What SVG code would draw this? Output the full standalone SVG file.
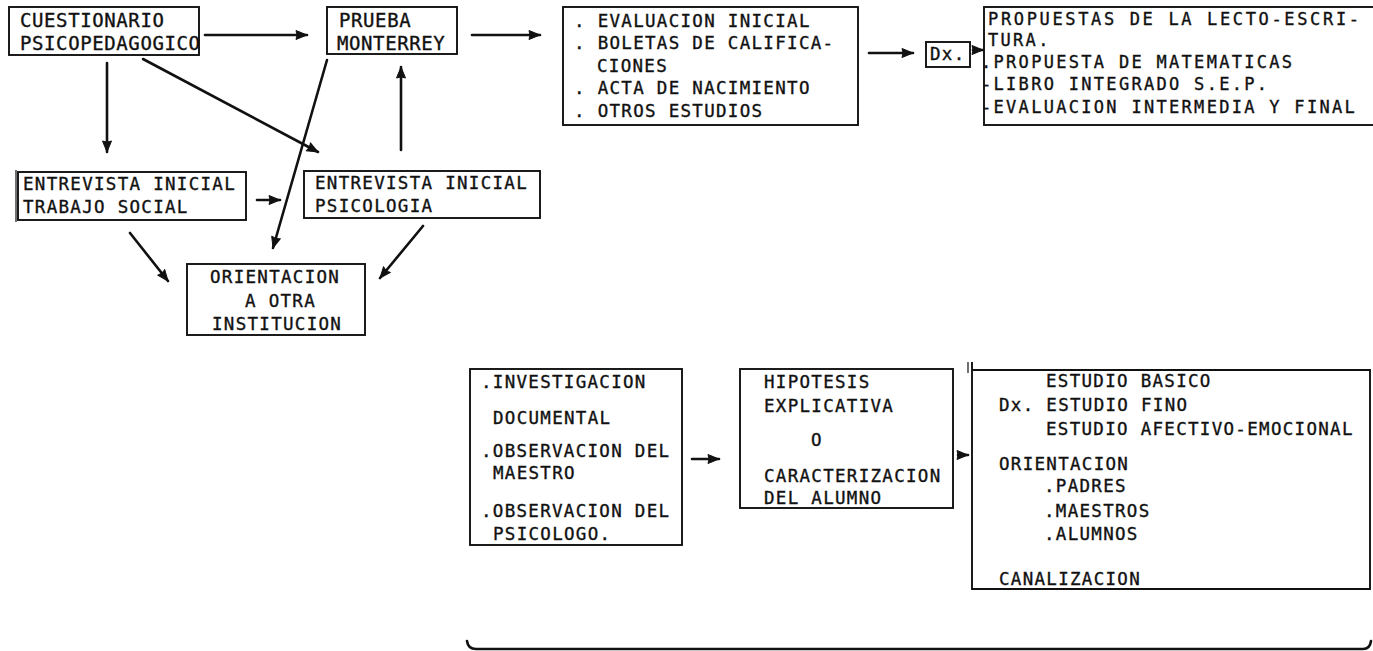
<svg xmlns="http://www.w3.org/2000/svg" width="1373" height="651" viewBox="0 0 1373 651">
<style>
.box{fill:none;stroke:#111;stroke-width:1.9}
.t{font-family:"DejaVu Sans Mono","Liberation Mono",monospace;font-size:17.5px;letter-spacing:1.3px;fill:#111;stroke:#111;stroke-width:0.35}
.big{font-size:19px;letter-spacing:0.6px}
.tr{font-size:17px;letter-spacing:2.3px}
.tr1{letter-spacing:2.65px}
.c{fill:none;stroke:#111;stroke-width:2.6;stroke-linecap:round}
</style>
<defs>
<marker id="ah" markerUnits="userSpaceOnUse" markerWidth="14" markerHeight="12" viewBox="0 0 14 12" refX="12" refY="6" orient="auto">
<path d="M1,1.5 L12,6 L1,10.5 Q3,6 1,1.5 Z" fill="#111" stroke="#111" stroke-width="1" stroke-linejoin="round"/>
</marker>
</defs>
<rect width="1373" height="651" fill="#fff"/>

<g id="cuestionario">
<rect class="box" x="9" y="7" width="190" height="48"/>
<text class="t big" x="20" y="27">CUESTIONARIO</text>
<text class="t big" x="20" y="50">PSICOPEDAGOGICO</text>
</g>
<g id="prueba">
<rect class="box" x="327" y="7" width="130" height="47"/>
<text class="t big" x="339" y="27">PRUEBA</text>
<text class="t big" x="337" y="50">MONTERREY</text>
</g>
<g id="evaluacion">
<rect class="box" x="563" y="7" width="295" height="118"/>
<text class="t" x="574" y="27">. EVALUACION INICIAL</text>
<text class="t" x="574" y="49">. BOLETAS DE CALIFICA-</text>
<text class="t" x="597" y="72">CIONES</text>
<text class="t" x="574" y="94">. ACTA DE NACIMIENTO</text>
<text class="t" x="574" y="117">. OTROS ESTUDIOS</text>
</g>
<g id="dx">
<rect class="box" x="926" y="42" width="44" height="25"/>
<text class="t" x="930" y="60">Dx.</text>
</g>
<g id="propuestas">
<rect class="box" x="984" y="7" width="400" height="118"/>
<text class="t tr tr1" x="988" y="25">PROPUESTAS DE LA LECTO-ESCRI-</text>
<text class="t tr" x="988" y="46">TURA.</text>
<text class="t tr" x="981" y="68">.PROPUESTA DE MATEMATICAS</text>
<text class="t tr" x="981" y="90">-LIBRO INTEGRADO S.E.P.</text>
<text class="t tr" x="981" y="113">-EVALUACION INTERMEDIA Y FINAL</text>
</g>
<g id="entrevista-ts">
<rect class="box" x="18" y="172" width="228" height="48"/>
<line x1="16" y1="170" x2="16" y2="222" stroke="#111" stroke-width="1.2"/>
<text class="t" x="23" y="190">ENTREVISTA INICIAL</text>
<text class="t" x="23" y="213">TRABAJO SOCIAL</text>
</g>
<g id="entrevista-psi">
<rect class="box" x="304" y="171" width="236" height="47"/>
<text class="t" x="315" y="189">ENTREVISTA INICIAL</text>
<text class="t" x="315" y="212">PSICOLOGIA</text>
</g>
<g id="orientacion-inst">
<rect class="box" x="187" y="264" width="178" height="71"/>
<text class="t" x="210" y="283">ORIENTACION</text>
<text class="t" x="245" y="307">A OTRA</text>
<text class="t" x="212" y="330">INSTITUCION</text>
</g>
<g id="investigacion">
<rect class="box" x="470" y="369" width="212" height="176"/>
<text class="t" x="481" y="388">.INVESTIGACION</text>
<text class="t" x="493" y="424">DOCUMENTAL</text>
<text class="t" x="481" y="457">.OBSERVACION DEL</text>
<text class="t" x="493" y="479">MAESTRO</text>
<text class="t" x="481" y="517">.OBSERVACION DEL</text>
<text class="t" x="493" y="540">PSICOLOGO.</text>
</g>
<g id="hipotesis">
<rect class="box" x="740" y="369" width="213" height="139"/>
<text class="t" x="764" y="388">HIPOTESIS</text>
<text class="t" x="764" y="412">EXPLICATIVA</text>
<text class="t" x="811" y="446">O</text>
<text class="t" x="764" y="482">CARACTERIZACION</text>
<text class="t" x="764" y="504">DEL ALUMNO</text>
</g>
<g id="resultado">
<path class="box" d="M972,362 V590 M972,370 H1370 V589 H972"/>
<line x1="968" y1="362" x2="968" y2="373" stroke="#111" stroke-width="1.2"/>
<text class="t" x="1046" y="387">ESTUDIO BASICO</text>
<text class="t" x="999" y="411">Dx. ESTUDIO FINO</text>
<text class="t" x="1046" y="435">ESTUDIO AFECTIVO-EMOCIONAL</text>
<text class="t" x="999" y="470">ORIENTACION</text>
<text class="t" x="1044" y="492">.PADRES</text>
<text class="t" x="1044" y="517">.MAESTROS</text>
<text class="t" x="1044" y="540">.ALUMNOS</text>
<text class="t" x="999" y="585">CANALIZACION</text>
</g>
<g id="llave">
<path class="c" d="M467,641 Q468,649 476,649 H1363 Q1370,649 1371,641"/>
</g>

<g id="connectors">
<line class="c" x1="205" y1="35" x2="307" y2="35" marker-end="url(#ah)"/>
<line class="c" x1="472" y1="35" x2="540" y2="35" marker-end="url(#ah)"/>
<line class="c" x1="869" y1="53" x2="913" y2="53" marker-end="url(#ah)"/>
<line class="c" x1="973" y1="50" x2="983" y2="50" marker-end="url(#ah)"/>
<line class="c" x1="107" y1="63" x2="107" y2="152" marker-end="url(#ah)"/>
<line class="c" x1="143" y1="59" x2="318" y2="152" marker-end="url(#ah)"/>
<line class="c" x1="327" y1="60" x2="273" y2="248" marker-end="url(#ah)"/>
<line class="c" x1="401" y1="150" x2="401" y2="67" marker-end="url(#ah)"/>
<line class="c" x1="257" y1="200" x2="280" y2="200" marker-end="url(#ah)"/>
<line class="c" x1="130" y1="233" x2="168" y2="281" marker-end="url(#ah)"/>
<line class="c" x1="423" y1="226" x2="380" y2="278" marker-end="url(#ah)"/>
<line class="c" x1="692" y1="459" x2="719" y2="459" marker-end="url(#ah)"/>
<line class="c" x1="958" y1="455" x2="968" y2="455" marker-end="url(#ah)"/>
</g>
</svg>
